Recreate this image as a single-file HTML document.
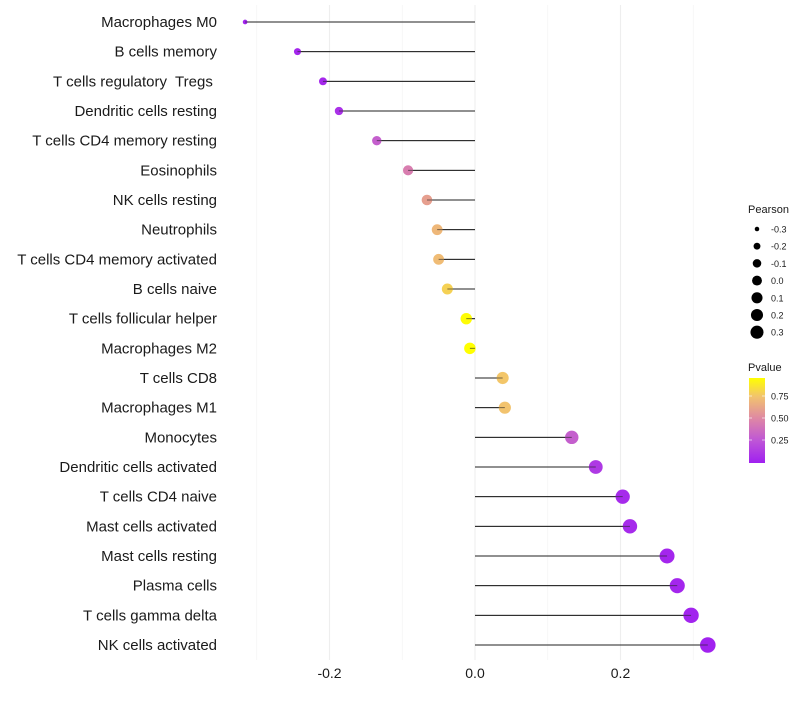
<!DOCTYPE html>
<html><head><meta charset="utf-8"><style>
body{margin:0;background:#fff;font-family:"Liberation Sans",sans-serif;}
text{white-space:pre;}
</style></head><body>
<svg id="chart" width="800" height="700" xmlns="http://www.w3.org/2000/svg" font-family="Liberation Sans, sans-serif"></svg>
<script>
const categories=["Macrophages M0","B cells memory","T cells regulatory  Tregs ","Dendritic cells resting","T cells CD4 memory resting","Eosinophils","NK cells resting","Neutrophils","T cells CD4 memory activated","B cells naive","T cells follicular helper","Macrophages M2","T cells CD8","Macrophages M1","Monocytes","Dendritic cells activated","T cells CD4 naive","Mast cells activated","Mast cells resting","Plasma cells","T cells gamma delta","NK cells activated"];
const pearson=[-0.316,-0.244,-0.209,-0.187,-0.135,-0.092,-0.066,-0.052,-0.050,-0.038,-0.012,-0.007,0.038,0.041,0.133,0.166,0.203,0.213,0.264,0.278,0.297,0.320];
const pvalue=[0.02,0.03,0.04,0.08,0.30,0.45,0.60,0.70,0.72,0.80,0.95,0.96,0.76,0.75,0.30,0.12,0.05,0.05,0.03,0.03,0.02,0.01];
const xTicks=[-0.2,0,0.2];
const xTickLabels=["-0.2","0.0","0.2"];
const minorTicks=[-0.3,-0.1,0.1,0.3];
const legendSizes=[-0.3,-0.2,-0.1,0.0,0.1,0.2,0.3];
const legendSizeLabels=["-0.3","-0.2","-0.1","0.0","0.1","0.2","0.3"];
const pTicks=[0.25,0.5,0.75];
const pTickLabels=["0.25","0.50","0.75"];

const svg=document.getElementById('chart');
const NS='http://www.w3.org/2000/svg';
function mk(t,a,p){const e=document.createElementNS(NS,t);for(const k in a)e.setAttribute(k,a[k]);(p||svg).appendChild(e);return e;}
const xS=v=>475+v*727.5;
const yS=i=>22+i*29.667;
const rS=v=>Math.sqrt(Math.max(0,(v+0.36)/0.68))*7.3+0.5;
const stops=[[0,[160,32,240]],[0.25,[190,85,215]],[0.5,[222,135,165]],[0.75,[242,195,110]],[0.96,[255,255,0]]];
function col(p){p=Math.max(0,Math.min(0.96,p));for(let i=1;i<stops.length;i++){if(p<=stops[i][0]){const a=stops[i-1],b=stops[i],t=(p-a[0])/(b[0]-a[0]);return 'rgb('+a[1].map((c,k)=>Math.round(c+(b[1][k]-c)*t)).join(',')+')';}}return 'rgb(255,255,0)';}

minorTicks.forEach(v=>{const g=mk('line',{x1:xS(v),x2:xS(v),y1:5,y2:660,stroke:'#f5f5f5','stroke-width':0.8});

});
xTicks.forEach((v,i)=>{const g=mk('line',{x1:xS(v),x2:xS(v),y1:5,y2:660,stroke:'#eeeeee','stroke-width':1.1});


const t=mk('text',{x:xS(v),y:678,'text-anchor':'middle','font-size':14,fill:'#1a1a1a'});t.textContent=xTickLabels[i];

});

categories.forEach((c,i)=>{
const y=yS(i);
const t=mk('text',{x:217,y:y+5,'text-anchor':'end','font-size':15,fill:'#1a1a1a'});t.textContent=c;


const l=mk('line',{x1:xS(0),x2:xS(pearson[i]),y1:y,y2:y,stroke:'#222','stroke-width':1});


const d=mk('circle',{cx:xS(pearson[i]),cy:y,r:rS(pearson[i]),fill:col(pvalue[i])});


const l2=mk('line',{x1:xS(0),x2:xS(pearson[i]),y1:y,y2:y,stroke:'#222','stroke-width':1,'stroke-opacity':0.6});


});

const lt=mk('text',{x:748,y:213,'font-size':11,fill:'#1a1a1a'});lt.textContent='Pearson';


legendSizes.forEach((v,i)=>{const y=229+i*17.2;
const c=mk('circle',{cx:757,cy:y,r:rS(v)*0.85,fill:'#000'});


const t=mk('text',{x:771,y:y+3.5,'font-size':9,fill:'#1a1a1a'});t.textContent=legendSizeLabels[i];

});

const pt=mk('text',{x:748,y:371,'font-size':11,fill:'#1a1a1a'});pt.textContent='Pvalue';


const defs=mk('defs',{});
const gr=mk('linearGradient',{id:'pg',x1:0,y1:1,x2:0,y2:0},defs);
stops.forEach(s=>mk('stop',{offset:s[0]/0.96,'stop-color':col(s[0])},gr));
const pY=p=>462-p*88;
const bar=mk('rect',{x:749,y:378,width:16,height:85,fill:'url(#pg)'});


pTicks.forEach((p,i)=>{
mk('line',{x1:749,x2:752,y1:pY(p),y2:pY(p),stroke:'#fff','stroke-opacity':0.6});
mk('line',{x1:762,x2:765,y1:pY(p),y2:pY(p),stroke:'#fff','stroke-opacity':0.6});
const t=mk('text',{x:771,y:pY(p)+3.5,'font-size':9,fill:'#1a1a1a'});t.textContent=pTickLabels[i];

});
</script>
</body></html>
